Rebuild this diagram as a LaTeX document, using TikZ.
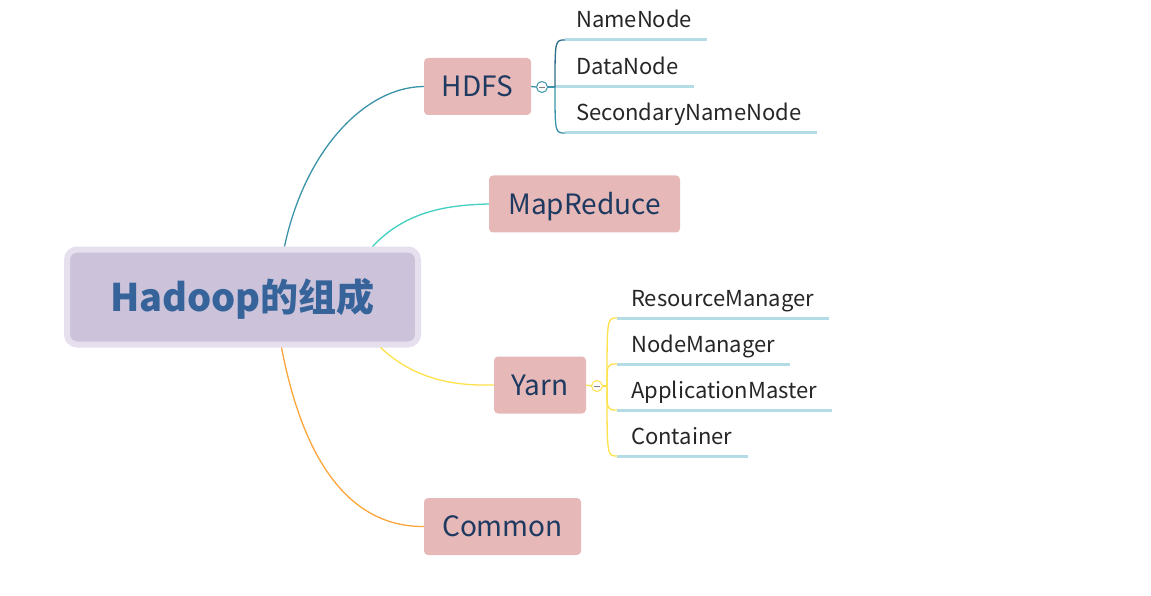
\documentclass[tikz,border=0pt]{standalone}
\usepackage{fontspec}
\setmainfont{Noto Sans CJK SC}
\usepackage{xcolor}
\usepackage{tikz}
\definecolor{boxfill}{HTML}{E6B9B8}
\definecolor{boxtext}{HTML}{1F3A60}
\definecolor{rootfill}{HTML}{CCC3DB}
\definecolor{rootrim}{HTML}{E6E0EE}
\definecolor{roottext}{HTML}{36649A}
\definecolor{ulcolor}{HTML}{B3DCE6}
\definecolor{hdfscol}{HTML}{3A93A8}
\definecolor{mrcol}{HTML}{40CFC0}
\definecolor{yarncol}{HTML}{FFE14A}
\definecolor{commoncol}{HTML}{FBA53A}
\tikzset{branch/.style = {line width=1.3pt},
         uline/.style = {draw=ulcolor, line width=3pt}}

\begin{document}
\begin{tikzpicture}[x=1pt,y=-1pt,
    root node/.style={rectangle,rounded corners=10pt,fill=rootfill,draw=rootrim,line width=6pt,
        minimum width=351pt,minimum height=95pt,text=roottext,text height=28pt,text depth=0pt,
        font=\fontsize{38}{38}\selectfont\bfseries},
    main node/.style={rectangle,rounded corners=4pt,fill=boxfill,minimum height=57pt,
        text=boxtext,text height=20.5pt,text depth=0pt,font=\fontsize{28}{28}\selectfont},
    leaf node/.style={anchor=base west,inner sep=0pt,text=black!85,font=\fontsize{22}{22}\selectfont},
    hub node/.style={circle,fill=white,line width=1pt,minimum size=11pt,inner sep=0pt}]
                \useasboundingbox (0,0) rectangle (1151,596);
                \node[root node] (hadoop) at (242.5,297) {Hadoop的组成};

                \node[main node, minimum width=107pt] (hdfs) at (477.5,86.5) {HDFS};
                \node[main node, minimum width=191pt] (mapreduce) at (584.5,204) {MapReduce};
                \node[main node, minimum width=92pt] (yarn) at (540,385) {Yarn};
                \node[main node, minimum width=157pt] (common) at (502.5,526.5) {Common};

                % root to the four parts
                \draw[branch, hdfscol] ([xshift=42pt]hadoop.north) .. controls (305,150) and (365,87) .. (hdfs.west);
                \draw[branch, mrcol] ([xshift=130pt]hadoop.north) .. controls (405,212) and (445,205) .. (mapreduce.west);
                \draw[branch, yarncol] ([xshift=138pt]hadoop.south) .. controls (415,380) and (455,386) .. (yarn.west);
                \draw[branch, commoncol] ([xshift=39pt]hadoop.south) .. controls (305,470) and (355,527) .. (common.west);

                % HDFS children
                \node[hub node, draw=hdfscol] (hdfshub) at (542,87) {};
                \draw[gray, line width=0.8pt] ([xshift=-3pt]hdfshub.center) -- ([xshift=3pt]hdfshub.center);
                \draw[branch, hdfscol] (hdfs.east) -- (hdfshub.west);
                \coordinate (hdfsfork) at (555,87);
                \draw[branch, hdfscol] (hdfshub.east) -- (hdfsfork);

                \node[leaf node] (namenode) at (576,28) {NameNode};
                \node[leaf node] (datanode) at (576,75) {DataNode};
                \node[leaf node] (secondary) at (576,121) {SecondaryNameNode};

                \draw[uline] ([xshift=-11pt,yshift=-12pt]namenode.base west) -- ([xshift=15pt,yshift=-12pt]namenode.base east);
                \draw[uline] ([xshift=-21pt,yshift=-12pt]datanode.base west) -- ([xshift=15pt,yshift=-12pt]datanode.base east);
                \draw[uline] ([xshift=-11pt,yshift=-12pt]secondary.base west) -- ([xshift=15pt,yshift=-12pt]secondary.base east);

                \draw[branch, hdfscol!55!boxtext] (hdfsfork) .. controls (555,40) .. ([xshift=-11pt,yshift=-12pt]namenode.base west);
                \draw[branch, hdfscol] (hdfsfork) .. controls (555,133) .. ([xshift=-11pt,yshift=-12pt]secondary.base west);

                % Yarn children
                \node[hub node, draw=yarncol] (yarnhub) at (597,386) {};
                \draw[gray, line width=0.8pt] ([xshift=-3pt]yarnhub.center) -- ([xshift=3pt]yarnhub.center);
                \draw[branch, yarncol] (yarn.east) -- (yarnhub.west);
                \coordinate (yarnfork) at (607,386);

                \node[leaf node] (resmgr) at (631,306) {ResourceManager};
                \node[leaf node] (nodemgr) at (631,352) {NodeManager};
                \node[leaf node] (appmaster) at (631,398) {ApplicationMaster};
                \node[leaf node] (container) at (631,444) {Container};

                \draw[uline] ([xshift=-14pt,yshift=-12pt]resmgr.base west) -- ([xshift=15pt,yshift=-12pt]resmgr.base east);
                \draw[uline] ([xshift=-14pt,yshift=-12pt]nodemgr.base west) -- ([xshift=15pt,yshift=-12pt]nodemgr.base east);
                \draw[uline] ([xshift=-14pt,yshift=-12pt]appmaster.base west) -- ([xshift=15pt,yshift=-12pt]appmaster.base east);
                \draw[uline] ([xshift=-14pt,yshift=-12pt]container.base west) -- ([xshift=15pt,yshift=-12pt]container.base east);

                \draw[branch, yarncol] (yarnhub.east) -- (yarnfork);
                \draw[branch, yarncol] (yarnfork) .. controls (607,318) .. ([xshift=-14pt,yshift=-12pt]resmgr.base west);
                \draw[branch, yarncol] (yarnfork) .. controls (607,364) .. ([xshift=-14pt,yshift=-12pt]nodemgr.base west);
                \draw[branch, yarncol] (yarnfork) .. controls (607,410) .. ([xshift=-14pt,yshift=-12pt]appmaster.base west);
                \draw[branch, yarncol] (yarnfork) .. controls (607,456) .. ([xshift=-14pt,yshift=-12pt]container.base west);
            \end{tikzpicture}
\end{document}
